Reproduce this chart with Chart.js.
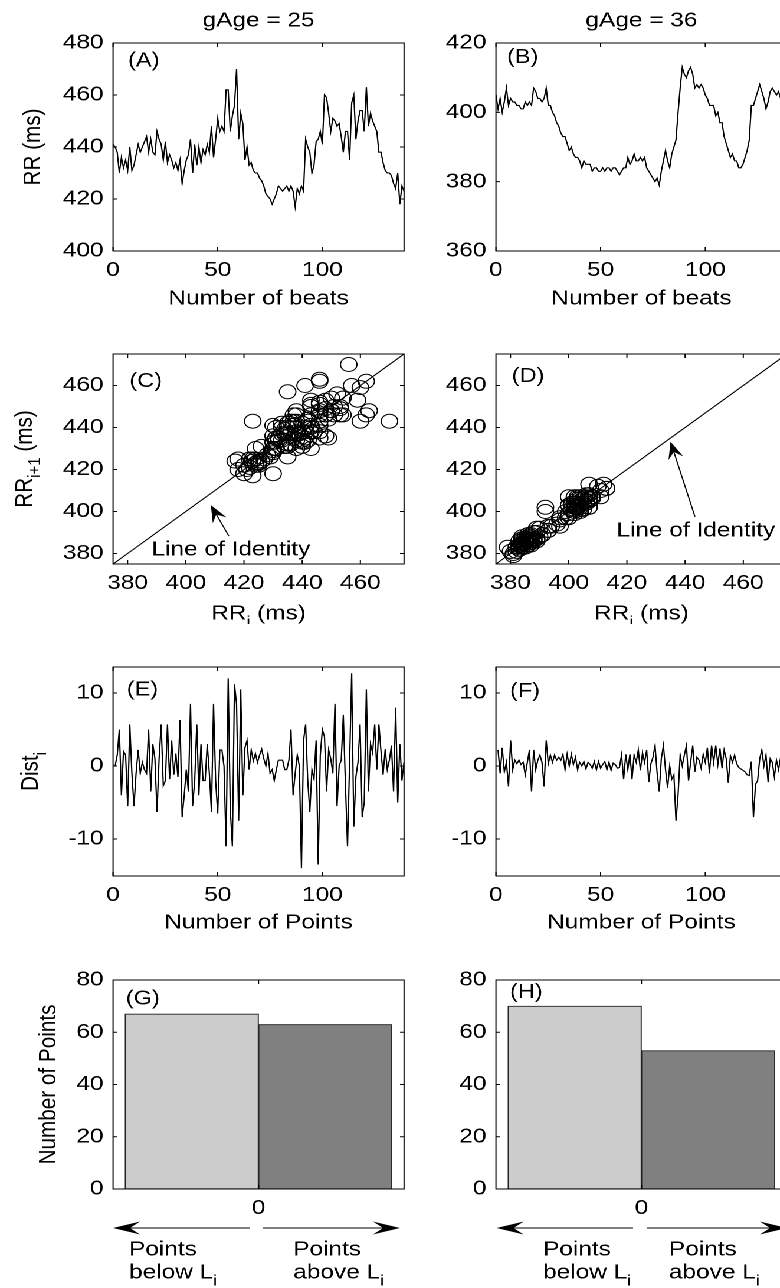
<!DOCTYPE html>
<html>
<head>
<meta charset="utf-8">
<script src="https://cdn.jsdelivr.net/npm/chart.js@4.4.1/dist/chart.umd.min.js"></script>
<style>
  html, body { margin: 0; padding: 0; background: #fff; overflow: hidden; }
  #stage { position: absolute; left: 0; top: 0; width: 780px; height: 1288px; overflow: hidden; background: #fff; }
  #inner { position: absolute; left: 0; top: 0; width: 700px; height: 1288px; transform: scaleX(1.18); transform-origin: 0 0; }
  #inner canvas { position: absolute; }
</style>
</head>
<body>
<div id="stage"><div id="inner"></div></div>
<script>
// ---------------- DATA ----------------
// (A) RR intervals, gAge = 25, beat index 0..139
const rrA = [441, 440, 438, 430, 436, 432, 435, 431, 440, 431,
             433, 437, 441, 438, 440, 442, 444, 438, 443, 438,
             437, 446, 443, 441, 435, 442, 434, 437, 435, 432,
             434, 431, 435, 426, 431, 435, 437, 443, 430, 441,
             433, 440, 434, 439, 437, 441, 438, 448, 436, 443,
             451, 446, 448, 446, 462, 462, 446, 452, 456, 470,
             443, 453, 449, 435, 440, 433, 434, 431, 430, 430,
             428, 427, 425, 422, 421, 420, 418, 420, 422, 425,
             424, 423, 424, 425, 423, 425, 423, 417, 424, 422,
             425, 423, 443, 440, 438, 430, 433, 442, 443, 446,
             441, 460, 459, 453, 446, 451, 450, 448, 449, 444,
             438, 446, 446, 435, 457, 460, 443, 450, 454, 454,
             446, 463, 448, 453, 450, 448, 446, 438, 438, 434,
             431, 430, 430, 429, 426, 424, 430, 418, 425, 423];
// (B) RR intervals, gAge = 36, beat index 0..139
const rrB = [405, 401, 404, 400, 403, 407, 402, 404, 403, 403,
             402, 402, 401, 401, 403, 402, 403, 402, 407, 406,
             404, 404, 403, 404, 407, 402, 402, 400, 399, 397,
             396, 394, 393, 393, 391, 389, 390, 388, 387, 387,
             386, 384, 386, 385, 385, 385, 383, 384, 384, 383,
             383, 384, 383, 384, 384, 383, 384, 384, 383, 382,
             383, 384, 384, 387, 385, 386, 388, 386, 386, 387,
             386, 387, 384, 383, 382, 381, 380, 381, 379, 383,
             386, 389, 386, 384, 388, 390, 392, 400, 407, 413,
             411, 410, 412, 413, 411, 407, 408, 407, 408, 407,
             405, 404, 402, 402, 402, 399, 400, 397, 397, 393,
             391, 389, 387, 388, 386, 386, 384, 384, 385, 387,
             389, 392, 402, 402, 404, 406, 408, 406, 404, 401,
             403, 406, 407, 406, 405, 406, 404, 405, 404, 403];
// (E) Dist_i, gAge = 25, points 1..139
const distE = [0, 1.5, 5, -4, 2, 1.5, -5.5, 5.7, -1, -5.5,
               -1, 2.2, -1, 0.5, -0.5, -1, 5, -3.5, 3, 1,
               -6.3, 1, 5.7, -2.7, -2, 5.7, -1.8, 3.5, -1.2, 1.7,
               -1.5, 6.3, -7, -4, -0.5, -3.5, 8.5, -5.5, -2, 5.7,
               -4, 3, -2, -2, 3, -1, -6.3, 8.5, -2, -6.5,
               2.2, 2.2, 0, -11, 12, -6, -11, 11.2, 8.5, -7.5,
               10.5, -4, 2.5, 3.5, -0.5, 2.2, 0.7, 1.7, 0.5, 1.5,
               2.3, 1, 0, 1.7, -1, -0.5, -2, -0.5, 0.8, 0.8,
               0.8, -0.5, -0.5, 0.8, 5, -4, -1, 1.5, 0, -14,
               3.5, 5.7, -2, -6.3, -0.5, -1.8, 3.5, -13.5, 1.5, 5,
               4, -3.5, 2.2, 1, -1, 8.5, -5.5, 0, 0.8, 7,
               -2.5, -11, 0.5, 12.7, -8.3, -1.5, 0.5, 5.7, -7, -5,
               10.5, -3.5, 3, 1.8, 5.7, -0.5, 5.7, 2, -1.2, 2.3,
               -0.5, 0.8, 2.8, -3.5, 8, -5, 3, -2, 0.5];
// (F) Dist_i, gAge = 36, points 1..139
const distF = [2.2, -1, 2.5, -0.8, 0.5, -2.8, 3.5, -0.5, 0.8, 0.3,
               0.8, 0.2, 0.5, -1.2, 0.5, 2.2, -3.5, 2.2, -0.5, 0.8,
               1.5, 0.5, -2.8, 3.5, 0.3, 1.5, 0.5, 1.5, 0.8, 1.2,
               0.8, 1.6, -0.5, 1.6, 0, 1.6, 0.2, 1.2, -0.5, 0.5,
               0, 0.6, -0.4, 0.5, 0.2, -0.3, 0.6, -0.5, 0.6, -0.3,
               0.2, 0.6, -0.5, 0.5, -0.6, 0.4, 0.2, -0.3, -0.2, 1.5,
               -1.8, 1.6, -0.5, 1.6, -1.8, 1.5, 0.5, 2.2, -0.6, 1.8,
               0.5, 2.2, -2.2, 0.3, 1.2, 2.8, -1, -3.5, 1, 2.8,
               -0.5, -3, 0, -1.8, -1.2, -7.5, -4, 1.5, 0, 1.5,
               2.8, -2, 0.5, 2.8, -0.8, 1.2, 0.8, -0.3, 1.6, 0.5,
               2.5, -1, 2.8, 0.5, 2.8, 0.2, 2.4, -0.3, 2.2, 1,
               -2.3, 1.4, 0.5, 1.5, 0.3, -0.2, -0.4, -0.6, -0.8, -1.2,
               -1.3, 0.6, -7, -2.5, -2, 1, 2.2, 0, 1.5, -2.2,
               1, 0.5, -1.5, 0.8, -0.5, 1.2, -1, 0.6, -0.8];
// (G)/(H) counts of points below / above the line of identity
const barPos = [-0.5, 0.5];
const countsG = [67, 63];
const countsH = [70, 53];
const barColors = ['#cccccc', '#808080'];
// line of identity end values (ms)
const identity = [375, 475];

// tick values / labels
const ticksBeats = [0, 50, 100];
const ticksRRA = [400, 420, 440, 460, 480];
const ticksRRB = [360, 380, 400, 420];
const ticksPoinc = [380, 400, 420, 440, 460];
const ticksDist = [-10, 0, 10];
const ticksCount = [0, 20, 40, 60, 80];
const ticksBarX = [0];

// ---------------- STYLE / LAYOUT ----------------
const FONT = "'Liberation Sans', Arial, Helvetica, sans-serif";
const FS = 20.7, SUBFS = 15, SUBDY = 7;
const S = 1.18;               // horizontal stretch of the figure
const TLY = 4, TLX = 4 / S;   // inward tick lengths
const fontStr = sz => sz + 'px ' + FONT;

function drawRich(ctx, parts, x, y, rot, align) {
  ctx.save();
  ctx.translate(x, y);
  if (rot) ctx.rotate(rot);
  ctx.textAlign = 'left';
  ctx.textBaseline = 'alphabetic';
  ctx.fillStyle = '#000';
  let w = 0;
  const ws = parts.map(p => { ctx.font = fontStr(p.sub ? SUBFS : FS); const m = ctx.measureText(p.t).width; w += m; return m; });
  let cx = align === 'left' ? 0 : -w / 2;
  const base = 0.358 * FS;
  parts.forEach((p, i) => {
    ctx.font = fontStr(p.sub ? SUBFS : FS);
    ctx.fillText(p.t, cx, base + (p.sub ? SUBDY : 0));
    cx += ws[i];
  });
  ctx.restore();
}

function arrow(ctx, x0, y0, x1, y1, L, W) {
  const a = Math.atan2(y1 - y0, x1 - x0);
  ctx.beginPath();
  ctx.moveTo(x0, y0);
  ctx.lineTo(x1 - Math.cos(a) * L * 0.6, y1 - Math.sin(a) * L * 0.6);
  ctx.stroke();
  ctx.save();
  ctx.translate(x1, y1);
  ctx.rotate(a);
  ctx.beginPath();
  ctx.moveTo(0, 0);
  ctx.lineTo(-L, -W);
  ctx.lineTo(-L * 0.62, 0);
  ctx.lineTo(-L, W);
  ctx.closePath();
  ctx.fill();
  ctx.restore();
}

const deco = {
  id: 'deco',
  afterDraw(chart, args, o) {
    const { ctx, chartArea: ca, scales } = chart;
    const xs = scales.x, ys = scales.y;
    ctx.save();
    ctx.strokeStyle = '#000';
    ctx.fillStyle = '#000';
    ctx.lineWidth = 1;
    // inward ticks on all four sides
    ctx.beginPath();
    xs.ticks.forEach(t => {
      const px = xs.getPixelForValue(t.value);
      ctx.moveTo(px, ca.bottom); ctx.lineTo(px, ca.bottom - TLY);
      ctx.moveTo(px, ca.top); ctx.lineTo(px, ca.top + TLY);
    });
    ys.ticks.forEach(t => {
      const py = ys.getPixelForValue(t.value);
      ctx.moveTo(ca.left, py); ctx.lineTo(ca.left + TLX, py);
      ctx.moveTo(ca.right, py); ctx.lineTo(ca.right - TLX, py);
    });
    ctx.stroke();
    ctx.strokeRect(ca.left, ca.top, ca.right - ca.left, ca.bottom - ca.top);

    ctx.textBaseline = 'middle';
    // panel label
    if (o.label) {
      ctx.font = fontStr(20);
      ctx.textAlign = 'left';
      ctx.fillText(o.label, ca.left + o.ldx / S, ca.top + o.ldy);
    }
    // column title
    if (o.title) {
      ctx.font = fontStr(FS);
      ctx.textAlign = 'center';
      ctx.fillText(o.title, (ca.left + ca.right) / 2, o.titleY);
    }
    if (o.yRich) drawRich(ctx, o.yRich, o.yRichX, (ca.top + ca.bottom) / 2, -Math.PI / 2, 'center');
    if (o.xRich) drawRich(ctx, o.xRich, (ca.left + ca.right) / 2, o.xRichY, 0, 'center');
    // line of identity annotation
    if (o.ident) {
      const id = o.ident;
      ctx.font = fontStr(FS);
      ctx.textAlign = 'center';
      ctx.fillText(id.text, xs.getPixelForValue(id.tx), ys.getPixelForValue(id.ty));
      arrow(ctx, xs.getPixelForValue(id.tail[0]), ys.getPixelForValue(id.tail[1]),
                 xs.getPixelForValue(id.tip[0]), ys.getPixelForValue(id.tip[1]), 17, 6.5);
    }
    // bar chart arrows and notes
    if (o.bars) {
      const b = o.bars;
      const ay = ca.bottom + b.arrowY;
      arrow(ctx, xs.getPixelForValue(b.left[0]), ay, xs.getPixelForValue(b.left[1]), ay, 23, 6.5);
      arrow(ctx, xs.getPixelForValue(b.right[0]), ay, xs.getPixelForValue(b.right[1]), ay, 23, 6.5);
      b.texts.forEach(t => {
        const tx = xs.getPixelForValue(t.x);
        drawRich(ctx, t.l1, tx, ca.bottom + b.line1Y, 0, 'left');
        drawRich(ctx, t.l2, tx, ca.bottom + b.line2Y, 0, 'left');
      });
    }
    ctx.restore();
  }
};

function linAxis(min, max, ticks, fitter, extra) {
  return Object.assign({
    type: 'linear', min, max, offset: false,
    grid: { display: false, drawTicks: false, offset: false },
    border: { display: false },
    afterBuildTicks: s => { s.ticks = ticks.map(v => ({ value: v })); },
    afterFit: fitter,
    ticks: { font: { family: FONT, size: FS }, color: '#000', padding: 8, autoSkip: false, maxRotation: 0, minRotation: 0, includeBounds: false }
  }, extra || {});
}
const axTitle = (text, padding) => ({ display: true, text, color: '#000', font: { family: FONT, size: FS }, padding });

const LEFT = { left: 0, width: 360, yW: 95.8, padR: 17.6 };
const RIGHT = { left: 350, width: 330, yW: 70.3, padR: 13.1 };
const ROWS = [
  { top: 0, height: 313, padT: 43, xH: 62 },
  { top: 330, height: 294, padT: 24, xH: 60 },
  { top: 640, height: 298, padT: 27, xH: 62 },
  { top: 955, height: 333, padT: 25, xH: 99 }
];

function makeChart(col, row, type, datasets, xAxis, yAxis, decoOpts) {
  const cv = document.createElement('canvas');
  cv.width = col.width; cv.height = row.height;
  cv.style.left = col.left + 'px'; cv.style.top = row.top + 'px';
  cv.style.width = col.width + 'px'; cv.style.height = row.height + 'px';
  document.getElementById('inner').appendChild(cv);
  xAxis.afterFit = s => { s.height = row.xH; };
  xAxis.ticks.padding = 7;
  yAxis.afterFit = s => { s.width = col.yW; };
  return new Chart(cv, {
    type,
    data: { datasets },
    plugins: [deco],
    options: {
      responsive: false, animation: false, devicePixelRatio: 2, events: [],
      layout: { padding: { top: row.padT, right: col.padR, left: 0, bottom: 0 } },
      plugins: { legend: { display: false }, tooltip: { enabled: false }, title: { display: false }, deco: decoOpts },
      scales: { x: xAxis, y: yAxis }
    }
  });
}

const lineDs = (xs0, vals) => ({
  data: vals.map((v, i) => ({ x: i + xs0, y: v })),
  borderColor: '#000', borderWidth: 1.1, pointRadius: 0, tension: 0, fill: false
});
const poincare = vals => ({
  type: 'scatter',
  data: vals.slice(0, -1).map((v, i) => ({ x: v, y: vals[i + 1] })),
  pointStyle: 'circle', pointRadius: 7, borderColor: '#000', borderWidth: 1,
  backgroundColor: 'rgba(0,0,0,0)'
});
const identityDs = () => ({
  type: 'line',
  data: identity.map(v => ({ x: v, y: v })),
  borderColor: '#000', borderWidth: 1, pointRadius: 0, showLine: true, fill: false
});
const barDs = counts => ({
  data: counts.map((c, i) => ({ x: barPos[i], y: c })),
  backgroundColor: barColors, borderColor: '#222', borderWidth: 1, borderSkipped: false,
  barPercentage: 1, categoryPercentage: 1
});
const sub = t => ({ t, sub: true });
const txt = t => ({ t });

// (A)
makeChart(LEFT, ROWS[0], 'line', [lineDs(0, rrA)],
  linAxis(0, 139, ticksBeats, null, { title: axTitle('Number of beats', { top: 0, bottom: 1.6 }) }),
  linAxis(400, 480, ticksRRA, null, { title: axTitle('RR (ms)', { top: 15.8, bottom: 0 }) }),
  { label: '(A)', ldx: 15, ldy: 18, title: 'gAge = 25', titleY: 21 });
// (B)
makeChart(RIGHT, ROWS[0], 'line', [lineDs(0, rrB)],
  linAxis(0, 139, ticksBeats, null, { title: axTitle('Number of beats', { top: 0, bottom: 1.6 }) }),
  linAxis(360, 420, ticksRRB, null),
  { label: '(B)', ldx: 11, ldy: 14.5, title: 'gAge = 36', titleY: 21 });
// (C)
makeChart(LEFT, ROWS[1], 'scatter', [poincare(rrA), identityDs()],
  linAxis(375, 475, ticksPoinc, null),
  linAxis(375, 475, ticksPoinc, null),
  { label: '(C)', ldx: 16.3, ldy: 27.7,
    yRich: [txt('RR'), sub('i+1'), txt(' (ms)')], yRichX: 19.5,
    xRich: [txt('RR'), sub('i'), txt(' (ms)')], xRichY: 282,
    ident: { text: 'Line of Identity', tx: 415.5, ty: 381.7, tip: [408.6, 403.1], tail: [414.8, 388.3] } });
// (D)
makeChart(RIGHT, ROWS[1], 'scatter', [poincare(rrB), identityDs()],
  linAxis(375, 475, ticksPoinc, null),
  linAxis(375, 475, ticksPoinc, null),
  { label: '(D)', ldx: 15.7, ldy: 22.7,
    xRich: [txt('RR'), sub('i'), txt(' (ms)')], xRichY: 282,
    ident: { text: 'Line of Identity', tx: 443.7, ty: 390.9, tip: [435.0, 433.2], tail: [443.4, 397.5] } });
// (E)
makeChart(LEFT, ROWS[2], 'line', [lineDs(1, distE)],
  linAxis(0, 139, ticksBeats, null, { title: axTitle('Number of Points', { top: 0, bottom: 2.6 }) }),
  linAxis(-15.07, 13.56, ticksDist, null),
  { label: '(E)', ldx: 13.7, ldy: 23, yRich: [txt('Dist'), sub('i')], yRichX: 24.6 });
// (F)
makeChart(RIGHT, ROWS[2], 'line', [lineDs(1, distF)],
  linAxis(0, 139, ticksBeats, null, { title: axTitle('Number of Points', { top: 0, bottom: 2.6 }) }),
  linAxis(-15.07, 13.56, ticksDist, null),
  { label: '(F)', ldx: 14, ldy: 24.7 });
// (G)
makeChart(LEFT, ROWS[3], 'bar', [barDs(countsG)],
  linAxis(-1.09, 1.09, ticksBarX, null),
  linAxis(0, 80, ticksCount, null, { title: axTitle('Number of Points', { top: 28.7, bottom: 0 }) }),
  { label: '(G)', ldx: 12.7, ldy: 19,
    bars: { arrowY: 39, line1Y: 59, line2Y: 82, left: [-0.064, -1.09], right: [0.034, 1.06],
      texts: [ { x: -0.97, l1: [txt('Points')], l2: [txt('below L'), sub('i')] },
               { x: 0.26, l1: [txt('Points')], l2: [txt('above L'), sub('i')] } ] } });
// (H)
makeChart(RIGHT, ROWS[3], 'bar', [barDs(countsH)],
  linAxis(-1.09, 1.09, ticksBarX, null),
  linAxis(0, 80, ticksCount, null),
  { label: '(H)', ldx: 14, ldy: 12.5,
    bars: { arrowY: 39, line1Y: 59, line2Y: 82, left: [-0.063, -1.085], right: [0.039, 1.09],
      texts: [ { x: -0.737, l1: [txt('Points')], l2: [txt('below L'), sub('i')] },
               { x: 0.206, l1: [txt('Points')], l2: [txt('above L'), sub('i')] } ] } });
</script>
</body>
</html>
